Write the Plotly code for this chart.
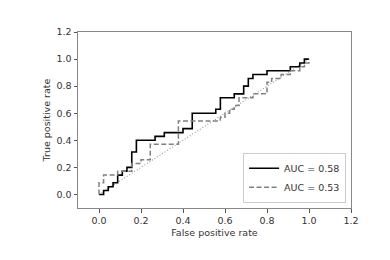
import plotly.graph_objects as go

# ROC curve 1 (AUC = 0.58)
fpr_a = [0, 0.022, 0.044, 0.067, 0.089, 0.111, 0.133, 0.156, 0.178, 0.267, 0.311, 0.4,
         0.444, 0.556, 0.578, 0.644, 0.689, 0.711, 0.733, 0.8, 0.911, 0.956, 0.978, 1.0]
tpr_a = [0, 0.029, 0.057, 0.086, 0.143, 0.171, 0.2, 0.314, 0.4, 0.429, 0.457, 0.486,
         0.6, 0.629, 0.714, 0.743, 0.8, 0.857, 0.886, 0.914, 0.943, 0.971, 1.0, 1.0]

# ROC curve 2 (AUC = 0.53)
fpr_b = [0, 0, 0.022, 0.089, 0.156, 0.2, 0.244, 0.378, 0.578, 0.6, 0.622, 0.644, 0.667,
         0.733, 0.8, 0.822, 0.867, 0.911, 0.956, 0.978, 1.0]
tpr_b = [0, 0.086, 0.143, 0.171, 0.229, 0.257, 0.371, 0.543, 0.571, 0.6, 0.629, 0.657, 0.714,
         0.743, 0.829, 0.857, 0.886, 0.914, 0.943, 0.971, 1.0]

diag = [0, 1]
labels = ["AUC = 0.58", "AUC = 0.53"]
ticks = [0.0, 0.2, 0.4, 0.6, 0.8, 1.0, 1.2]

fig = go.Figure()
fig.add_trace(go.Scatter(x=diag, y=diag, mode="lines", showlegend=False,
                         line=dict(color="#999999", width=1.1, dash="1px,2px")))
fig.add_trace(go.Scatter(x=fpr_a, y=tpr_a, mode="lines", name=labels[0],
                         line=dict(color="black", width=1.6, shape="hv")))
fig.add_trace(go.Scatter(x=fpr_b, y=tpr_b, mode="lines", name=labels[1],
                         line=dict(color="#808080", width=1.5, shape="hv", dash="5px,2.5px")))

axis_common = dict(range=[-0.1, 1.2], tickvals=ticks, tickformat=".1f", automargin=False,
                   showgrid=False, zeroline=False, showline=True, mirror=True,
                   linecolor="#888888", linewidth=1, ticks="outside", ticklen=3.5,
                   tickcolor="#555555", tickfont=dict(size=9.5, color="#333333"))

fig.update_layout(
    width=390, height=260,
    margin=dict(l=70, r=47, t=24, b=60),
    paper_bgcolor="white", plot_bgcolor="white",
    font=dict(family="DejaVu Sans", size=9.5, color="#333333"),
    xaxis=dict(title=dict(text="False positive rate", font=dict(size=9.5), standoff=4), **axis_common),
    yaxis=dict(title=dict(text="True positive rate", font=dict(size=9.5), standoff=4), **axis_common),
    legend=dict(x=0.982, y=0.03, xanchor="right", yanchor="bottom",
                bordercolor="#cccccc", borderwidth=1, bgcolor="white",
                font=dict(size=9.5), itemwidth=30, tracegroupgap=0),
)

fig.write_html("out.html")
